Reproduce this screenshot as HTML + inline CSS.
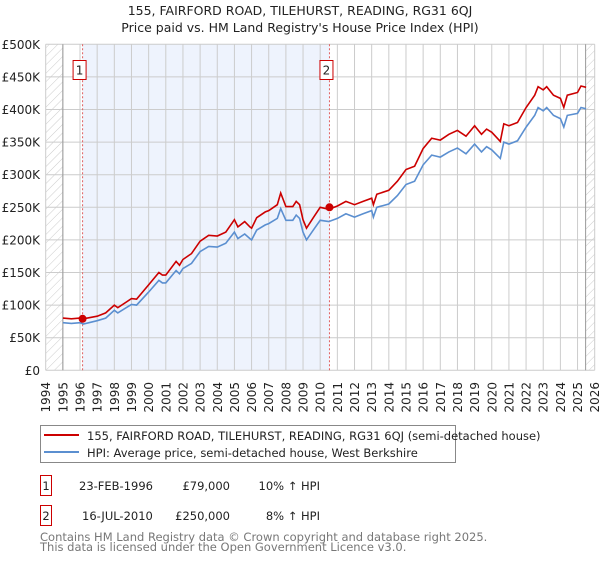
<!DOCTYPE html>
<html><head><meta charset="utf-8"><style>
body{margin:0;background:#fff;font-family:"DejaVu Sans","Liberation Sans",sans-serif;}
svg text{font-family:"DejaVu Sans","Liberation Sans",sans-serif;}
</style></head><body>
<svg id="chart" width="600" height="560" xmlns="http://www.w3.org/2000/svg">
<defs><pattern id="hatch" width="6" height="6" patternUnits="userSpaceOnUse" patternTransform="rotate(45)"><line x1="0" y1="0" x2="0" y2="6" stroke="#ccc" stroke-width="1"/></pattern></defs>
<text x="300" y="15" text-anchor="middle" font-size="12.5" fill="#222">155, FAIRFORD ROAD, TILEHURST, READING, RG31 6QJ</text>
<text x="300" y="32" text-anchor="middle" font-size="12.5" fill="#222">Price paid vs. HM Land Registry's House Price Index (HPI)</text>
<g id="plot"></g>
<g id="legend">
<rect x="40.5" y="425.5" width="415" height="37" fill="#fff" stroke="#888"/>
<line x1="44" y1="435" x2="79" y2="435" stroke="#cc0000" stroke-width="2"/>
<text x="87" y="440" font-size="11.5" fill="#222">155, FAIRFORD ROAD, TILEHURST, READING, RG31 6QJ (semi-detached house)</text>
<line x1="44" y1="452" x2="79" y2="452" stroke="#5b8fd0" stroke-width="2"/>
<text x="87" y="457" font-size="11.5" fill="#222">HPI: Average price, semi-detached house, West Berkshire</text>
</g>
<g font-size="11.5" fill="#222">
<rect x="40.5" y="475.5" width="11" height="20" fill="#fff" stroke="#cc0000"/>
<text x="46" y="490" text-anchor="middle">1</text>
<text x="79" y="490">23-FEB-1996</text>
<text x="230" y="490" text-anchor="end">£79,000</text>
<text x="320" y="490" text-anchor="end">10% ↑ HPI</text>
<rect x="40.5" y="505.5" width="11" height="20" fill="#fff" stroke="#cc0000"/>
<text x="46" y="520" text-anchor="middle">2</text>
<text x="82" y="520">16-JUL-2010</text>
<text x="230" y="520" text-anchor="end">£250,000</text>
<text x="320" y="520" text-anchor="end">8% ↑ HPI</text>
</g>
<text x="40" y="541" font-size="11.5" fill="#777">Contains HM Land Registry data © Crown copyright and database right 2025.</text>
<text x="40" y="551" font-size="11.5" fill="#777">This data is licensed under the Open Government Licence v3.0.</text>
</svg>
<script>
const years=[1995,1995.5,1996,1996.2,1997,1997.5,1998,1998.2,1999,1999.3,2000,2000.6,2000.8,2001,2001.6,2001.8,2002,2002.5,2003,2003.5,2004,2004.5,2005,2005.2,2005.6,2005.9,2006,2006.3,2006.8,2007,2007.5,2007.7,2008,2008.4,2008.6,2008.8,2009,2009.2,2009.6,2010,2010.5,2011,2011.5,2012,2012.5,2013,2013.1,2013.3,2014,2014.5,2015,2015.5,2016,2016.5,2017,2017.5,2018,2018.5,2019,2019.4,2019.7,2020,2020.5,2020.7,2021,2021.5,2022,2022.5,2022.7,2023,2023.2,2023.6,2024,2024.2,2024.4,2025,2025.2,2025.5];
const hpiK=[73,72,73,71,76,80,92,88,101,100,120,138,134,134,153,148,156,164,182,190,189,195,212,202,209,202,200,215,223,225,233,248,230,230,238,233,212,200,215,230,228,233,240,235,240,245,235,250,255,268,285,290,315,330,327,335,341,332,347,335,343,338,325,350,347,352,373,391,403,398,403,391,386,373,391,394,403,401];
const priceK=[80,79,80,79,83,88,100,96,110,109,131,150,146,146,167,161,170,179,198,207,206,212,231,220,228,220,218,234,243,245,254,272,251,251,259,254,231,218,234,250,247,252,259,254,259,264,254,270,276,290,308,313,340,356,353,362,368,359,375,362,370,365,351,378,375,380,403,422,435,430,435,422,417,403,422,426,436,434];
const saleYears=[1996.15,2010.54];
const salePrices=[79000,250000];
const saleLabels=["1","2"];
const yTicks=[0,50000,100000,150000,200000,250000,300000,350000,400000,450000,500000];
const yTickLabels=["£0","£50K","£100K","£150K","£200K","£250K","£300K","£350K","£400K","£450K","£500K"];
const xTicks=[1994,1995,1996,1997,1998,1999,2000,2001,2002,2003,2004,2005,2006,2007,2008,2009,2010,2011,2012,2013,2014,2015,2016,2017,2018,2019,2020,2021,2022,2023,2024,2025,2026];

const L=45.7,R=594.7,T=44.3,B=370.3;
const X=y=>L+(y-1994)/32*(R-L);
const Y=v=>B-v/500000*(B-T);
const NS="http://www.w3.org/2000/svg";
const g=document.getElementById('plot');
function mk(tag,attrs,parent){const e=document.createElementNS(NS,tag);for(const k in attrs)e.setAttribute(k,attrs[k]);(parent||g).appendChild(e);return e;}
let e;
e=mk('rect',{x:X(1994),y:T,width:X(1995)-X(1994),height:B-T,fill:'url(#hatch)'});


e=mk('rect',{x:X(2025.47),y:T,width:R-X(2025.47),height:B-T,fill:'url(#hatch)'});


e=mk('rect',{x:X(saleYears[0]),y:T,width:X(saleYears[1])-X(saleYears[0]),height:B-T,fill:'#eef3fd'});


xTicks.forEach(t=>{
  e=mk('line',{x1:X(t),x2:X(t),y1:T,y2:B,stroke:'#ccc','stroke-width':1});
  
  
  e=mk('text',{x:0,y:0,transform:`translate(${X(t)+4.5},382) rotate(-90)`,'text-anchor':'end','font-size':12,fill:'#222'});
  e.textContent=t;
  
  
});
yTicks.forEach((t,i)=>{
  e=mk('line',{x1:L,x2:R,y1:Y(t),y2:Y(t),stroke:'#ccc','stroke-width':1});
  
  
  e=mk('text',{x:40,y:Y(t)+4.5,'text-anchor':'end','font-size':12,fill:'#222'});
  e.textContent=yTickLabels[i];
  
  
});
e=mk('line',{x1:X(1995),x2:X(1995),y1:T,y2:B,stroke:'#999','stroke-width':1});


e=mk('line',{x1:X(2025.47),x2:X(2025.47),y1:T,y2:B,stroke:'#999','stroke-width':1});


saleYears.forEach((s,i)=>{
  e=mk('line',{x1:X(s),x2:X(s),y1:T,y2:B,stroke:'#e06060','stroke-width':1,'stroke-dasharray':'2,2'});
  
  
});
const pts=a=>years.map((y,i)=>X(y).toFixed(1)+','+Y(a[i]*1000).toFixed(1)).join(' ');
e=mk('polyline',{points:pts(hpiK),fill:'none',stroke:'#5b8fd0','stroke-width':1.6});


e=mk('polyline',{points:pts(priceK),fill:'none',stroke:'#cc0000','stroke-width':1.6});


saleYears.forEach((s,i)=>{
  e=mk('circle',{cx:X(s),cy:Y(salePrices[i]),r:4,fill:'#cc0000'});
  
  
  e=mk('rect',{x:X(s)-9.5,y:60.5,width:13,height:19,fill:'#fff',stroke:'#cc0000'});
  
  
  e=mk('text',{x:X(s)-3,y:74.5,'text-anchor':'middle','font-size':12,fill:'#222'});
  e.textContent=saleLabels[i];
  
  
});
</script>
</body></html>
